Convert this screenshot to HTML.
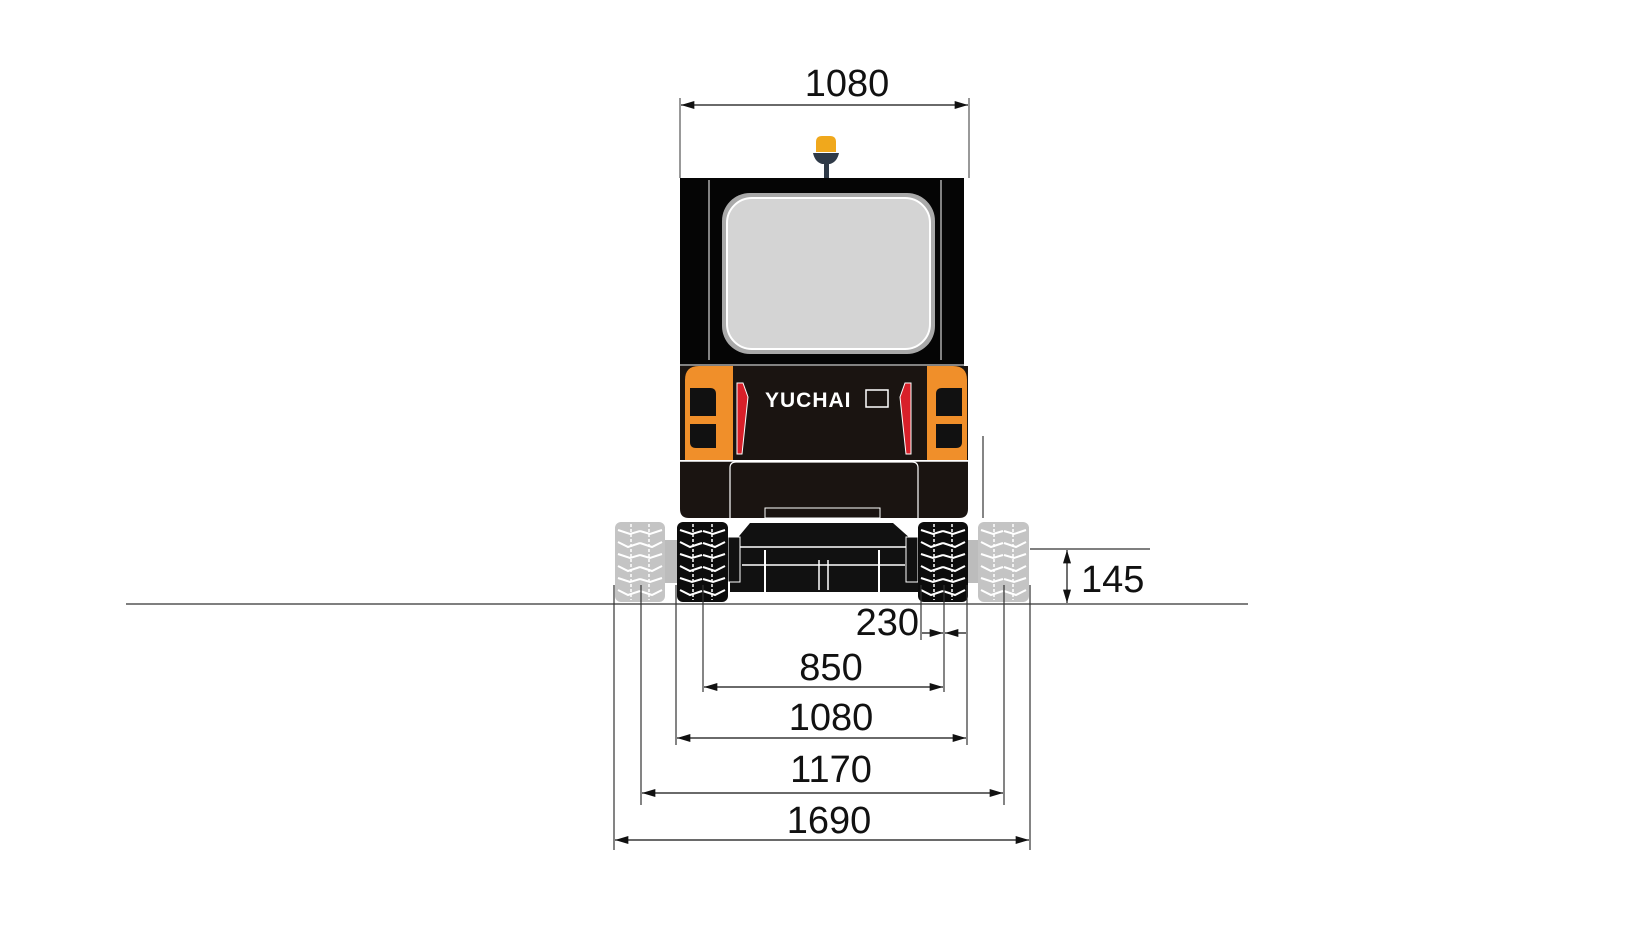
<!DOCTYPE html>
<html><head><meta charset="utf-8"><style>
html,body{margin:0;padding:0;background:#fff;}
svg{display:block;}
text{font-family:"Liberation Sans","DejaVu Sans",sans-serif;fill:#111;}
</style></head><body>
<svg width="1638" height="943" viewBox="0 0 1638 943" xmlns="http://www.w3.org/2000/svg">
<defs>
<marker id="a" viewBox="0 0 10 6" refX="10" refY="3" markerWidth="20" markerHeight="8" markerUnits="userSpaceOnUse" orient="auto-start-reverse"><path d="M0,0 L10,3 L0,6 Z" fill="#111"/></marker>
<g id="tread">
<path d="M3,8 l12,4 l10,-3 M3,20 l10,5 l12,-4 M3,32 l12,4 l10,-3 M3,44 l10,5 l12,-4 M3,56 l12,4 l10,-3 M3,68 l10,5 l12,-4" fill="none" stroke-width="2"/>
<path d="M16,2 v76" fill="none" stroke-width="1.5" stroke-dasharray="3,2"/>
</g>
</defs>

<line x1="126" y1="604" x2="1248" y2="604" stroke="#333" stroke-width="1.2"/>

<line x1="680" y1="98" x2="680" y2="178" stroke="#333" stroke-width="1"/>
<line x1="969" y1="98" x2="969" y2="178" stroke="#333" stroke-width="1"/>
<line x1="681" y1="105" x2="968" y2="105" stroke="#111" stroke-width="1.3" marker-start="url(#a)" marker-end="url(#a)"/>
<text x="847" y="96" font-size="38" text-anchor="middle">1080</text>

<path d="M816,152 v-10 q0,-6 6,-6 h8 q6,0 6,6 v10 z" fill="#f0a81c"/>
<path d="M813,153 h26 q-2,9 -9,11 h-8 q-7,-2 -9,-11 z" fill="#2f3a48"/>
<rect x="824" y="162" width="5" height="16" fill="#2f3a48"/>

<rect x="680" y="178" width="284" height="190" fill="#050505"/>
<line x1="709" y1="180" x2="709" y2="360" stroke="#fff" stroke-width="1"/>
<line x1="941" y1="180" x2="941" y2="360" stroke="#fff" stroke-width="1"/>
<rect x="722" y="193" width="213" height="161" rx="28" fill="#a9a9a9"/>
<rect x="727" y="198" width="203" height="151" rx="25" fill="#d4d4d4" stroke="#fff" stroke-width="2"/>

<rect x="680" y="366" width="288" height="94" fill="#1a1411"/>
<path d="M685,380 q0,-14 14,-14 h34 v94 h-48 z" fill="#f08f2a"/>
<path d="M967,380 q0,-14 -14,-14 h-26 v94 h40 z" fill="#f08f2a"/>
<path d="M690,388 h20 q6,0 6,6 v22 h-26 z" fill="#111"/>
<path d="M690,424 h26 v24 h-20 q-6,0 -6,-6 z" fill="#111"/>
<path d="M962,388 h-20 q-6,0 -6,6 v22 h26 z" fill="#111"/>
<path d="M962,424 h-26 v24 h20 q6,0 6,-6 z" fill="#111"/>
<path d="M737,383 l6,0 l5,14 l-6,57 l-5,0 z" fill="#d8202a" stroke="#fff" stroke-width="1"/>
<path d="M911,383 l-6,0 l-5,14 l6,57 l5,0 z" fill="#d8202a" stroke="#fff" stroke-width="1"/>
<text x="765" y="407" font-size="21" font-weight="bold" style="fill:#fff;letter-spacing:1px">YUCHAI</text>
<rect x="866" y="390" width="22" height="17" fill="none" stroke="#fff" stroke-width="1.5"/>
<line x1="680" y1="365" x2="968" y2="365" stroke="#fff" stroke-width="1"/>

<path d="M680,461 h288 v48 q0,9 -9,9 h-270 q-9,0 -9,-9 z" fill="#1a1411"/>
<line x1="680" y1="461" x2="968" y2="461" stroke="#fff" stroke-width="1.5"/>
<path d="M730,518 v-50 q0,-6 6,-6 h176 q6,0 6,6 v50" fill="none" stroke="#fff" stroke-width="1.2"/>
<rect x="765" y="508" width="115" height="10" fill="none" stroke="#fff" stroke-width="1"/>
<line x1="983" y1="436" x2="983" y2="518" stroke="#333" stroke-width="1.2"/>

<path d="M750,523 h143 l27,24 v45 h-190 v-45 z" fill="#111"/>
<line x1="730" y1="547" x2="920" y2="547" stroke="#fff" stroke-width="1.5"/>
<rect x="728" y="537" width="12" height="45" fill="#111" stroke="#fff" stroke-width="1"/>
<rect x="906" y="537" width="12" height="45" fill="#111" stroke="#fff" stroke-width="1"/>
<line x1="742" y1="565" x2="905" y2="565" stroke="#fff" stroke-width="1.5"/>
<line x1="765" y1="550" x2="765" y2="595" stroke="#fff" stroke-width="2"/>
<line x1="879" y1="550" x2="879" y2="595" stroke="#fff" stroke-width="2"/>
<line x1="819" y1="560" x2="819" y2="590" stroke="#fff" stroke-width="1.5"/>
<line x1="828" y1="560" x2="828" y2="590" stroke="#fff" stroke-width="1.5"/>

<rect x="665" y="540" width="12" height="43" fill="#bcbcbc"/>
<rect x="968" y="540" width="11" height="43" fill="#bcbcbc"/>

<g>
<rect x="615" y="522" width="50" height="80" rx="6" fill="#c4c4c4"/>
<g transform="translate(615,522)" stroke="#fff"><use href="#tread"/><use href="#tread" transform="translate(50,0) scale(-1,1)"/></g>
<rect x="978" y="522" width="51" height="80" rx="6" fill="#c4c4c4"/>
<g transform="translate(978,522)" stroke="#fff"><use href="#tread"/><use href="#tread" transform="translate(51,0) scale(-1,1)"/></g>
<rect x="677" y="522" width="51" height="80" rx="6" fill="#0c0c0c"/>
<g transform="translate(677,522)" stroke="#fff"><use href="#tread"/><use href="#tread" transform="translate(51,0) scale(-1,1)"/></g>
<rect x="918" y="522" width="50" height="80" rx="6" fill="#0c0c0c"/>
<g transform="translate(918,522)" stroke="#fff"><use href="#tread"/><use href="#tread" transform="translate(50,0) scale(-1,1)"/></g>
</g>

<line x1="1030" y1="549" x2="1150" y2="549" stroke="#333" stroke-width="1.2"/>
<line x1="1067" y1="550" x2="1067" y2="603" stroke="#111" stroke-width="1.2" marker-start="url(#a)" marker-end="url(#a)"/>
<text x="1081" y="592" font-size="38">145</text>

<g stroke="#333" stroke-width="1.2">
<line x1="614" y1="585" x2="614" y2="850"/>
<line x1="1030" y1="585" x2="1030" y2="850"/>
<line x1="641" y1="585" x2="641" y2="805"/>
<line x1="1004" y1="585" x2="1004" y2="805"/>
<line x1="676" y1="585" x2="676" y2="745"/>
<line x1="967" y1="585" x2="967" y2="745"/>
<line x1="703" y1="585" x2="703" y2="692"/>
<line x1="944" y1="585" x2="944" y2="692"/>
<line x1="921" y1="585" x2="921" y2="640"/>
</g>

<g stroke="#111" stroke-width="1.3">
<line x1="615" y1="840" x2="1029" y2="840" marker-start="url(#a)" marker-end="url(#a)"/>
<line x1="642" y1="793" x2="1003" y2="793" marker-start="url(#a)" marker-end="url(#a)"/>
<line x1="677" y1="738" x2="966" y2="738" marker-start="url(#a)" marker-end="url(#a)"/>
<line x1="704" y1="687" x2="943" y2="687" marker-start="url(#a)" marker-end="url(#a)"/>
<line x1="922" y1="633" x2="943" y2="633" marker-end="url(#a)"/>
<line x1="966" y1="633" x2="945" y2="633" marker-end="url(#a)"/>
</g>
<text x="829" y="833" font-size="38" text-anchor="middle">1690</text>
<text x="831" y="782" font-size="38" text-anchor="middle">1170</text>
<text x="831" y="730" font-size="38" text-anchor="middle">1080</text>
<text x="831" y="680" font-size="38" text-anchor="middle">850</text>
<text x="919" y="635" font-size="38" text-anchor="end">230</text>
</svg>
</body></html>
